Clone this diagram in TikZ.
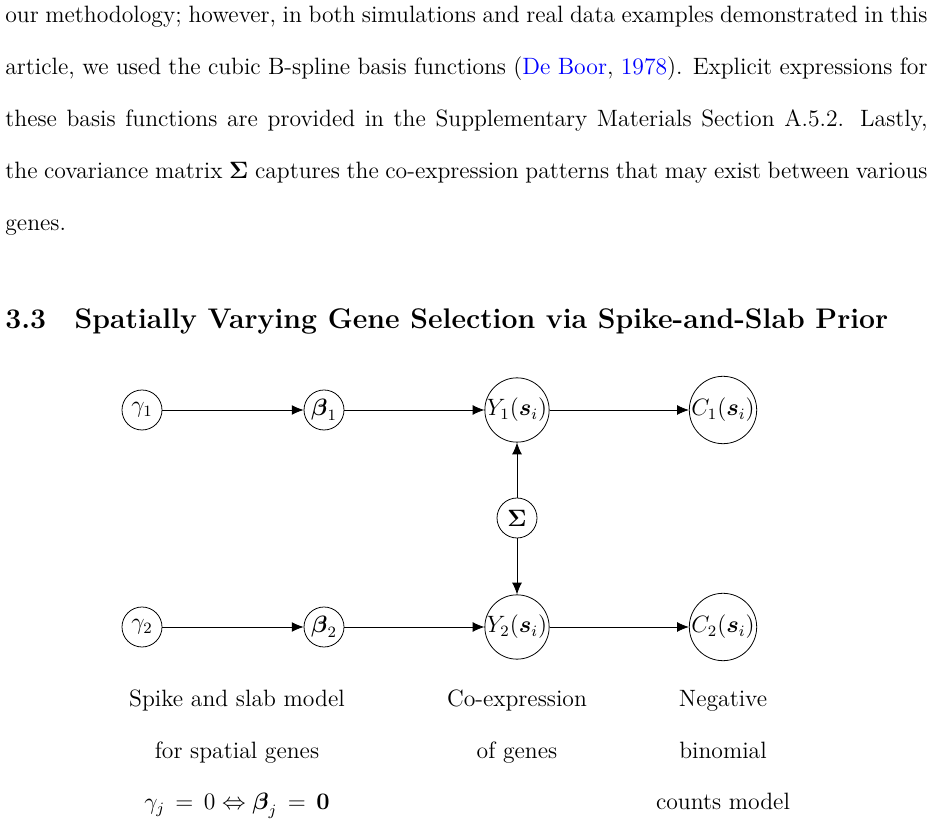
\documentclass[tikz,border=0pt]{standalone}
\usepackage{amsmath}
\usepackage{amssymb}
\usepackage{xcolor}
\usepackage{tikz}
\usetikzlibrary{arrows.meta}

\begin{document}
\begin{tikzpicture}[x=0.5075pt, y=-0.5075pt,
    font=\fontsize{12pt}{14.5pt}\selectfont,
    var/.style={draw, circle, inner sep=0pt, minimum size=20.3pt},
    obs/.style={draw, circle, inner sep=0pt, minimum size=32pt},
    edge/.style={-{Latex[length=6pt,width=5pt]}},
    txt/.style={anchor=base west, inner sep=0pt},
    lbl/.style={anchor=base, inner sep=0pt}]
      \useasboundingbox (0,0) rectangle (932,826);
      % running text above the section
      \node[txt] (l1) at (5,23) {\makebox[468pt][s]{our methodology; however, in both simulations and real data examples demonstrated in this}};
      \node[txt] (l2) at (5,75) {\makebox[468pt][s]{article, we used the cubic B-spline basis functions (\textcolor{blue}{De Boor}, \textcolor{blue}{1978}). Explicit expressions for}};
      \node[txt] (l3) at (5,127) {\makebox[468pt][s]{these basis functions are provided in the Supplementary Materials Section A.5.2. Lastly,}};
      \node[txt] (l4) at (5,179) {\makebox[468pt][s]{the covariance matrix $\boldsymbol{\Sigma}$ captures the co-expression patterns that may exist between various}};
      \node[txt] (l5) at (5,231) {genes.};
      \node[txt, font=\fontsize{14.4pt}{18pt}\selectfont\bfseries] (sec) at (5,329) {3.3\quad Spatially Varying Gene Selection via Spike-and-Slab Prior};
      % graph
      \node[var] (g1) at (142,410) {$\gamma_1$};
      \node[var] (b1) at (324,410) {$\boldsymbol{\beta}_1$};
      \node[obs] (y1) at (517,410) {$Y_1(\boldsymbol{s}_i)$};
      \node[obs] (c1) at (723,410) {$C_1(\boldsymbol{s}_i)$};
      \node[var] (sig) at (517,518) {$\boldsymbol{\Sigma}$};
      \node[var] (g2) at (142,627) {$\gamma_2$};
      \node[var] (b2) at (324,627) {$\boldsymbol{\beta}_2$};
      \node[obs] (y2) at (517,627) {$Y_2(\boldsymbol{s}_i)$};
      \node[obs] (c2) at (723,627) {$C_2(\boldsymbol{s}_i)$};
      \draw[edge] (g1) -- (b1);
      \draw[edge] (b1) -- (y1);
      \draw[edge] (y1) -- (c1);
      \draw[edge] (g2) -- (b2);
      \draw[edge] (b2) -- (y2);
      \draw[edge] (y2) -- (c2);
      \draw[edge] (sig) -- (y1);
      \draw[edge] (sig) -- (y2);
      % captions under the columns
      \node[lbl] (sp1) at (237,707) {Spike and slab model};
      \node[lbl] (sp2) at (237,759) {for spatial genes};
      \node[lbl] (sp3) at (237,810) {$\gamma_j \,=\, 0 \Leftrightarrow \boldsymbol{\beta}_j \,=\, \mathbf{0}$};
      \node[lbl] (co1) at (517,707) {Co-expression};
      \node[lbl] (co2) at (517,759) {of genes};
      \node[lbl] (nb1) at (723,707) {Negative};
      \node[lbl] (nb2) at (723,759) {binomial};
      \node[lbl] (nb3) at (723,810) {counts model};
    \end{tikzpicture}
\end{document}
